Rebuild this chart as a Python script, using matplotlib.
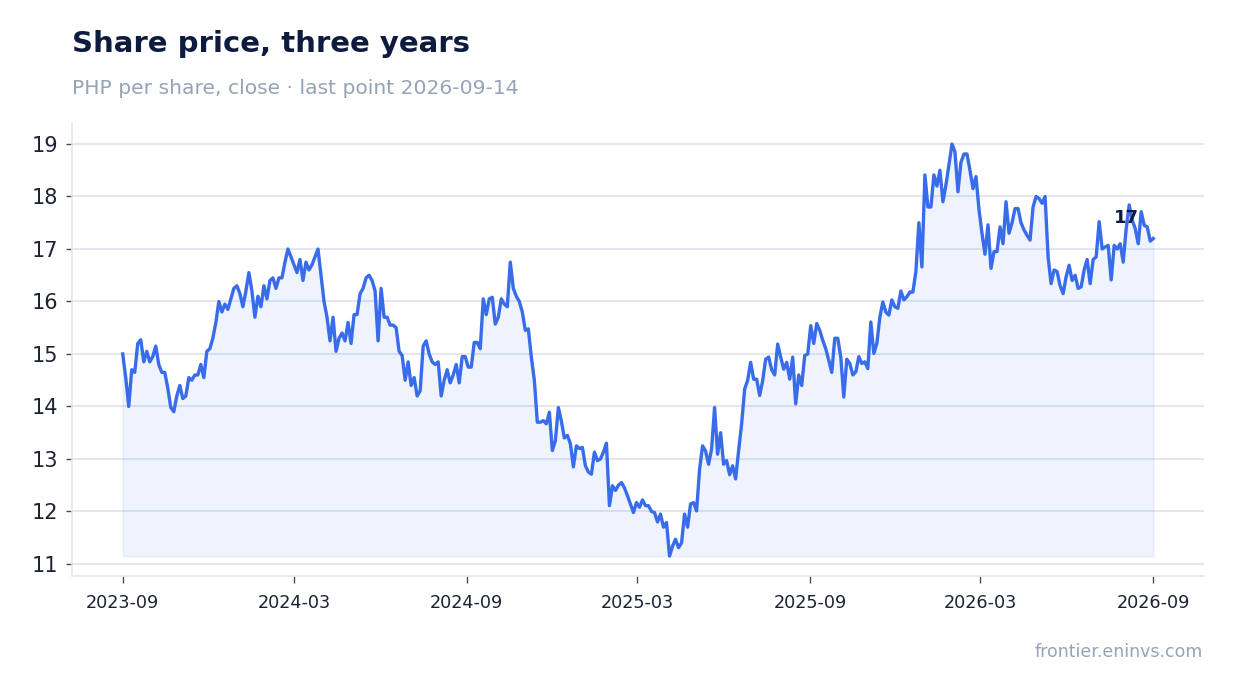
import matplotlib
matplotlib.use("Agg")
import matplotlib.pyplot as plt
import matplotlib.dates as mdates
import pandas as pd

# closing prices (roughly every 3 days)
start_date = "2023-09-14"
end_date = "2026-09-14"
prices = [
    15.0, 14.55, 14.0, 14.7, 14.65, 15.2, 15.27, 14.85, 15.05, 14.85,
    14.95, 15.15, 14.8, 14.65, 14.65, 14.35, 13.98, 13.9, 14.2, 14.4,
    14.15, 14.2, 14.55, 14.5, 14.6, 14.6, 14.8, 14.55, 15.05, 15.1,
    15.3, 15.6, 16.0, 15.8, 15.95, 15.85, 16.05, 16.25, 16.3, 16.15,
    15.9, 16.2, 16.55, 16.2, 15.7, 16.1, 15.9, 16.3, 16.05, 16.4,
    16.45, 16.25, 16.45, 16.45, 16.75, 17.0, 16.85, 16.7, 16.55, 16.8,
    16.4, 16.75, 16.6, 16.7, 16.85, 17.0, 16.5, 16.0, 15.7, 15.25,
    15.7, 15.05, 15.3, 15.4, 15.25, 15.6, 15.2, 15.75, 15.75, 16.15,
    16.25, 16.45, 16.5, 16.4, 16.2, 15.25, 16.25, 15.7, 15.7, 15.55,
    15.55, 15.5, 15.05, 14.97, 14.5, 14.85, 14.4, 14.55, 14.2, 14.3,
    15.15, 15.25, 15.0, 14.85, 14.8, 14.85, 14.2, 14.5, 14.7, 14.45,
    14.6, 14.8, 14.45, 14.95, 14.95, 14.75, 14.75, 15.22, 15.22, 15.1,
    16.05, 15.75, 16.05, 16.08, 15.57, 15.7, 16.05, 15.95, 15.9, 16.75,
    16.25, 16.1, 16.0, 15.8, 15.45, 15.48, 14.94, 14.5, 13.7, 13.7,
    13.73, 13.67, 13.89, 13.16, 13.35, 13.98, 13.72, 13.4, 13.45, 13.29,
    12.85, 13.25, 13.2, 13.22, 12.87, 12.75, 12.71, 13.13, 12.97, 13.0,
    13.13, 13.3, 12.11, 12.49, 12.4, 12.5, 12.55, 12.45, 12.3, 12.14,
    11.98, 12.17, 12.08, 12.22, 12.11, 12.11, 12.0, 11.98, 11.8, 11.95,
    11.7, 11.79, 11.15, 11.34, 11.47, 11.31, 11.4, 11.95, 11.7, 12.14,
    12.17, 12.01, 12.8, 13.25, 13.15, 12.9, 13.19, 13.98, 13.09, 13.5,
    12.9, 12.97, 12.7, 12.87, 12.62, 13.16, 13.67, 14.33, 14.5, 14.84,
    14.52, 14.52, 14.21, 14.49, 14.9, 14.94, 14.7, 14.6, 15.19, 14.94,
    14.71, 14.84, 14.52, 14.94, 14.05, 14.6, 14.4, 14.97, 15.0, 15.54,
    15.2, 15.58, 15.45, 15.26, 15.1, 14.88, 14.65, 15.3, 15.3, 14.94,
    14.18, 14.9, 14.82, 14.6, 14.66, 14.95, 14.82, 14.85, 14.72, 15.61,
    15.01, 15.2, 15.7, 15.99, 15.8, 15.74, 16.03, 15.9, 15.87, 16.2,
    16.03, 16.09, 16.18, 16.18, 16.57, 17.5, 16.66, 18.41, 17.8, 17.8,
    18.41, 18.2, 18.5, 17.9, 18.22, 18.6, 19.0, 18.85, 18.09, 18.65,
    18.81, 18.81, 18.5, 18.15, 18.38, 17.75, 17.3, 16.9, 17.46, 16.63,
    16.95, 16.95, 17.42, 17.1, 17.9, 17.3, 17.5, 17.77, 17.77, 17.5,
    17.36, 17.26, 17.17, 17.8, 18.0, 17.96, 17.87, 18.0, 16.85, 16.34,
    16.6, 16.57, 16.3, 16.15, 16.47, 16.69, 16.4, 16.5, 16.25, 16.28,
    16.6, 16.8, 16.34, 16.8, 16.85, 17.52, 17.0, 17.04, 17.07, 16.41,
    17.07, 17.0, 17.1, 16.75, 17.39, 17.84, 17.55, 17.39, 17.1, 17.71,
    17.45, 17.42, 17.15, 17.2,
]
dates = pd.date_range(start_date, end_date, periods=len(prices))
tick_dates = pd.date_range(start_date, end_date, freq=pd.DateOffset(months=6))

line_color = "#386cea"
navy = "#0d1b3e"
muted = "#97a3b6"

fig = plt.figure(figsize=(12.34, 6.93), dpi=100)
ax = fig.add_axes([0.0583, 0.1688, 0.9174, 0.6537])

base = min(prices)
ax.fill_between(dates, prices, base, color=line_color, alpha=0.08, linewidth=1.2,
                edgecolor=(0.22, 0.42, 0.92, 0.1))
ax.plot(dates, prices, color=line_color, linewidth=2.4, solid_joinstyle="round")

pad = pd.Timedelta(days=54)
ax.set_xlim(dates[0] - pad, dates[-1] + pad)
ax.set_ylim(10.77, 19.4)
ax.set_yticks(range(11, 20))
ax.set_xticks(tick_dates)
ax.xaxis.set_major_formatter(mdates.DateFormatter("%Y-%m"))

ax.grid(axis="y", color="#dfe3f0", linewidth=1.2)
ax.set_axisbelow(True)
for s in ["top", "right"]:
    ax.spines[s].set_visible(False)
for s in ["left", "bottom"]:
    ax.spines[s].set_color("#e3e7ee")
    ax.spines[s].set_linewidth(1.2)
ax.tick_params(axis="y", labelsize=15, labelcolor="#1b2333", color="#444c5c",
               length=4, width=1, pad=6)
ax.tick_params(axis="x", labelsize=12.7, labelcolor="#1b2333", color="#444c5c",
               length=5, width=1, pad=8)

# label near the last point
ax.annotate(f"{prices[-1]:.0f}", xy=(dates[-1], prices[-1]), xytext=(-19.5, 14.8),
            textcoords="offset points", ha="center", va="center",
            fontsize=13, fontweight="bold", color=navy)

fig.text(72 / 1234, 1 - 44 / 693, "Share price, three years", fontsize=21,
         fontweight="bold", color=navy, ha="left", va="center")
fig.text(72 / 1234, 1 - 88 / 693, "PHP per share, close · last point 2026-09-14",
         fontsize=14.6, color=muted, ha="left", va="center")
fig.text(1203 / 1234, 1 - 652 / 693, "frontier.eninvs.com", fontsize=12.5,
         color=muted, ha="right", va="center")

fig.savefig("out.png", dpi=100)
